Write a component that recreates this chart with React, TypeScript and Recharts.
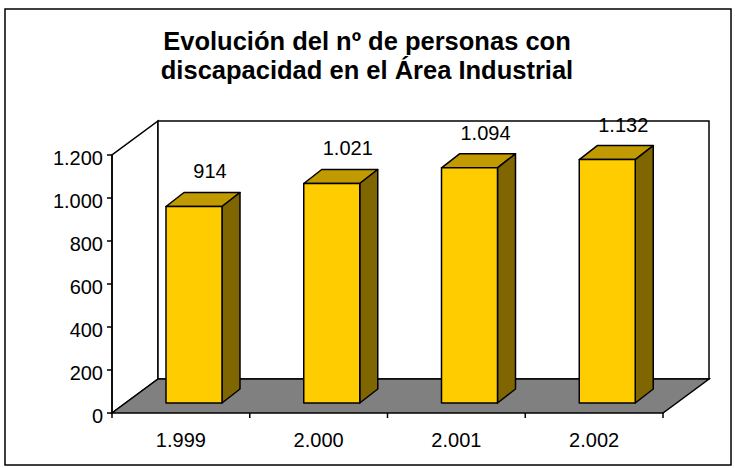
import { BarChart, Bar, XAxis, YAxis, LabelList, Customized } from "recharts";

const categories = ["1.999", "2.000", "2.001", "2.002"];
const personas = [914, 1021, 1094, 1132];
const yTicks = [0, 200, 400, 600, 800, 1000, 1200];

const data = categories.map((year, i) => ({ year, personas: personas[i] }));

const W = 735;
const H = 468;
// front plane of the plot (left, top, right, bottom)
const PLOT = { left: 112, top: 155, right: 663, bottom: 413 };
const WALL_DX = 46;
const WALL_DY = -34;
// bars sit a bit into the floor
const SHIFT_X = 13;
const SHIFT_Y = -10;
const BAR_DX = 18;
const BAR_DY = -14;

const FONT = "'Liberation Sans', Arial, sans-serif";
const YELLOW = "#FFCC00";
const TOP = "#C09A00";
const SIDE = "#806600";

const fmt = (v: number) => String(v).replace(/\B(?=(\d{3})+(?!\d))/g, ".");

function Walls() {
  const { left, top, right, bottom } = PLOT;
  const bl = left + WALL_DX;
  const br = right + WALL_DX;
  const bt = top + WALL_DY;
  const bb = bottom + WALL_DY;
  const band = (right - left) / categories.length;
  const bounds = Array.from({ length: categories.length + 1 }, (_, i) => left + i * band);
  return (
    <g>
      <rect x={5} y={9} width={726} height={456} fill="#fff" stroke="#000" strokeWidth={1.5} />
      <text x={367} y={50} textAnchor="middle" fontFamily={FONT} fontWeight="bold" fontSize={25.5} fill="#000">
        Evolución del nº de personas con
      </text>
      <text x={367} y={79} textAnchor="middle" fontFamily={FONT} fontWeight="bold" fontSize={25.5} fill="#000">
        discapacidad en el Área Industrial
      </text>
      <polygon
        points={`${left},${bottom} ${left},${top} ${bl},${bt} ${bl},${bb}`}
        fill="#fff"
        stroke="#000"
        strokeWidth={1.5}
      />
      <rect x={bl} y={bt} width={br - bl} height={bb - bt} fill="#fff" stroke="#000" strokeWidth={1.5} />
      <polygon
        points={`${left},${bottom} ${right},${bottom} ${br},${bb} ${bl},${bb}`}
        fill="#808080"
        stroke="#000"
        strokeWidth={1.5}
      />
      {bounds.map((bx) => (
        <line key={bx} x1={bx} x2={bx} y1={bottom} y2={bottom + 5} stroke="#000" strokeWidth={1.5} />
      ))}
    </g>
  );
}

function Bar3D(props: any) {
  const { x, y, width, height } = props;
  const fx = x + SHIFT_X;
  const fy = y + SHIFT_Y;
  const r = fx + width;
  return (
    <g stroke="#000" strokeWidth={1.5} strokeLinejoin="round">
      <polygon points={`${fx},${fy} ${fx + BAR_DX},${fy + BAR_DY} ${r + BAR_DX},${fy + BAR_DY} ${r},${fy}`} fill={TOP} />
      <polygon
        points={`${r},${fy} ${r + BAR_DX},${fy + BAR_DY} ${r + BAR_DX},${fy + height + BAR_DY} ${r},${fy + height}`}
        fill={SIDE}
      />
      <rect x={fx} y={fy} width={width} height={height} fill={YELLOW} />
    </g>
  );
}

function ValueLabel(props: any) {
  const { x, y, width, value } = props;
  return (
    <text
      x={x + width / 2 + SHIFT_X + 16}
      y={y + SHIFT_Y + BAR_DY - 20 + 6}
      textAnchor="middle"
      fontFamily={FONT}
      fontSize={20}
      fill="#000"
    >
      {fmt(value)}
    </text>
  );
}

function XTick({ x, y, payload }: any) {
  return (
    <text x={x} y={y} dy={34} textAnchor="middle" fontFamily={FONT} fontSize={20} fill="#000">
      {payload.value}
    </text>
  );
}

function YTick({ x, y, payload }: any) {
  return (
    <text x={x} y={y} dy={10} textAnchor="end" fontFamily={FONT} fontSize={20} fill="#000">
      {fmt(payload.value)}
    </text>
  );
}

export default function App() {
  return (
    <div style={{ width: W, height: H }}>
      <style>{"body{margin:0}"}</style>
      <BarChart
        width={W}
        height={H}
        data={data}
        margin={{ top: PLOT.top, right: W - PLOT.right, left: PLOT.left - 60, bottom: H - PLOT.bottom - 30 }}
      >
        <Customized component={<Walls />} />
        <XAxis
          dataKey="year"
          height={30}
          tickSize={0}
          tickMargin={0}
          axisLine={false}
          tickLine={false}
          tick={<XTick />}
          interval={0}
        />
        <YAxis
          width={60}
          domain={[0, 1200]}
          ticks={yTicks}
          tickSize={5}
          tickMargin={4}
          axisLine={{ stroke: "#000", strokeWidth: 1.5 }}
          tickLine={{ stroke: "#000", strokeWidth: 1.5 }}
          tick={<YTick />}
          interval={0}
        />
        <Bar dataKey="personas" barSize={56} shape={<Bar3D />} isAnimationActive={false}>
          <LabelList dataKey="personas" content={<ValueLabel />} />
        </Bar>
      </BarChart>
    </div>
  );
}
